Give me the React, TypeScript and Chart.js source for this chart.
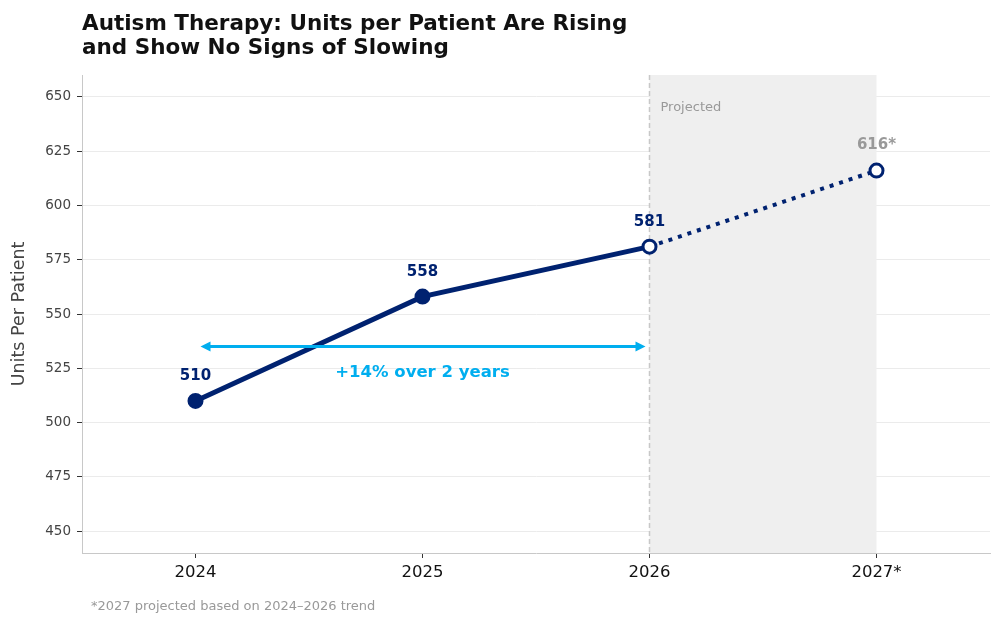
import React, { useEffect, useRef } from 'react';
import { Chart, registerables } from 'chart.js';

Chart.register(...registerables);

const years = ['2024', '2025', '2026', '2027*'];
const actualUnits = [510, 558, 581, null];
const projectedUnits = [null, null, 581, 616];
const pointLabels = ['510', '558', '581', '616*'];
const yTicks = [450, 475, 500, 525, 550, 575, 600, 625, 650];
const arrowValue = 535;
const arrowFrom = 0;
const arrowTo = 2;
const projectedFrom = 2;
const projectedTo = 3;

const NAVY = '#002270';
const CYAN = '#00AEEF';
const GRAY = '#999999';
const FONT = '"DejaVu Sans", sans-serif';

const overlay = {
  id: 'overlay',
  beforeDatasetsDraw(chart: any) {
    const { ctx, chartArea, scales } = chart;
    const x0 = scales.x.getPixelForValue(projectedFrom);
    const x1 = scales.x.getPixelForValue(projectedTo);
    ctx.save();
    ctx.fillStyle = '#efefef';
    ctx.fillRect(x0, chartArea.top, x1 - x0, chartArea.bottom - chartArea.top);
    ctx.strokeStyle = '#c8c8c8';
    ctx.lineWidth = 1.5;
    ctx.setLineDash([5, 3]);
    ctx.beginPath();
    ctx.moveTo(x0, chartArea.top);
    ctx.lineTo(x0, chartArea.bottom);
    ctx.stroke();
    ctx.setLineDash([]);
    ctx.fillStyle = GRAY;
    ctx.font = `13px ${FONT}`;
    ctx.textAlign = 'left';
    ctx.textBaseline = 'middle';
    ctx.fillText('Projected', x0 + 11, chartArea.top + 33);
    ctx.restore();
  },
  afterDatasetsDraw(chart: any) {
    const { ctx, scales } = chart;
    const xs = scales.x;
    const ys = scales.y;
    ctx.save();

    // arrow
    const ay = ys.getPixelForValue(arrowValue);
    const ax0 = xs.getPixelForValue(arrowFrom) + 5;
    const ax1 = xs.getPixelForValue(arrowTo) - 4;
    ctx.strokeStyle = CYAN;
    ctx.fillStyle = CYAN;
    ctx.lineWidth = 3;
    ctx.beginPath();
    ctx.moveTo(ax0 + 6, ay);
    ctx.lineTo(ax1 - 6, ay);
    ctx.stroke();
    ctx.beginPath();
    ctx.moveTo(ax0, ay);
    ctx.lineTo(ax0 + 10, ay - 5);
    ctx.lineTo(ax0 + 10, ay + 5);
    ctx.closePath();
    ctx.fill();
    ctx.beginPath();
    ctx.moveTo(ax1, ay);
    ctx.lineTo(ax1 - 10, ay - 5);
    ctx.lineTo(ax1 - 10, ay + 5);
    ctx.closePath();
    ctx.fill();
    ctx.font = `bold 16.5px ${FONT}`;
    ctx.textAlign = 'center';
    ctx.textBaseline = 'middle';
    ctx.fillText('+14% over 2 years', (xs.getPixelForValue(arrowFrom) + xs.getPixelForValue(arrowTo)) / 2, ay + 26);

    // point labels
    ctx.font = `bold 15px ${FONT}`;
    years.forEach((_, i) => {
      const v = actualUnits[i] ?? projectedUnits[i];
      if (v == null) return;
      ctx.fillStyle = i === years.length - 1 ? GRAY : NAVY;
      ctx.fillText(pointLabels[i], xs.getPixelForValue(i), ys.getPixelForValue(v) - 25);
    });
    ctx.restore();
  },
  afterDraw(chart: any) {
    const { ctx, chartArea } = chart;
    ctx.save();
    ctx.fillStyle = '#111';
    ctx.font = `bold 21.5px ${FONT}`;
    ctx.textAlign = 'left';
    ctx.textBaseline = 'alphabetic';
    ctx.fillText('Autism Therapy: Units per Patient Are Rising', 82, 30);
    ctx.fillText('and Show No Signs of Slowing', 82, 54);
    ctx.restore();

    ctx.save();
    ctx.fillStyle = '#444';
    ctx.font = `17.5px ${FONT}`;
    ctx.textAlign = 'center';
    ctx.textBaseline = 'middle';
    ctx.translate(19, (chartArea.top + chartArea.bottom) / 2);
    ctx.rotate(-Math.PI / 2);
    ctx.fillText('Units Per Patient', 0, 0);
    ctx.restore();

    ctx.save();
    ctx.fillStyle = GRAY;
    ctx.font = `13px ${FONT}`;
    ctx.textAlign = 'left';
    ctx.textBaseline = 'middle';
    ctx.fillText('*2027 projected based on 2024\u20132026 trend', 91, 607);
    ctx.restore();
  },
};

const App = () => {
  const chartRef = useRef<HTMLCanvasElement>(null);

  useEffect(() => {
    if (!chartRef.current) return;

    const myChart = new Chart(chartRef.current, {
      type: 'line',
      data: {
        labels: years,
        datasets: [
          {
            data: actualUnits,
            borderColor: NAVY,
            borderWidth: 5,
            pointRadius: [7, 7, 6.5, 0],
            pointBorderWidth: [2, 2, 3, 0],
            pointBackgroundColor: [NAVY, NAVY, '#fff', '#fff'],
            pointBorderColor: NAVY,
            tension: 0,
          },
          {
            data: projectedUnits,
            borderColor: NAVY,
            borderWidth: 4,
            borderDash: [4, 6],
            borderCapStyle: 'butt',
            pointRadius: [0, 0, 0, 6.5],
            pointBorderWidth: 3,
            pointBackgroundColor: '#fff',
            pointBorderColor: NAVY,
            tension: 0,
          },
        ],
      },
      options: {
        animation: false,
        responsive: true,
        maintainAspectRatio: false,
        layout: { padding: { top: 75, right: 10, left: 0, bottom: 0 } },
        plugins: {
          legend: { display: false },
          tooltip: { enabled: false },
        },
        scales: {
          x: {
            type: 'category',
            offset: true,
            grid: {
              display: true,
              drawOnChartArea: false,
              drawTicks: true,
              tickLength: 5,
              tickColor: '#333',
              offset: false,
            },
            border: { display: true, color: '#c8c8c8' },
            ticks: {
              color: '#111',
              padding: 5,
              font: { size: 16.5, family: FONT },
            },
            afterFit: (s: any) => {
              s.height = 72;
            },
          },
          y: {
            min: 440,
            max: 660,
            grid: {
              color: '#ebebeb',
              tickColor: '#333',
              tickLength: 5,
            },
            border: { display: true, color: '#c8c8c8' },
            ticks: {
              color: '#444',
              padding: 6,
              font: { size: 13.5, family: FONT },
            },
            afterBuildTicks: (axis: any) => {
              axis.ticks = yTicks.map((v) => ({ value: v }));
            },
            afterFit: (s: any) => {
              s.width = 82;
            },
          },
        },
      },
      plugins: [overlay],
    });

    return () => {
      myChart.destroy();
    };
  }, []);

  return (
    <div style={{ position: 'absolute', left: 0, top: 0, width: '1000px', height: '625px', background: '#fff' }}>
      <canvas ref={chartRef} />
    </div>
  );
};

export default App;
